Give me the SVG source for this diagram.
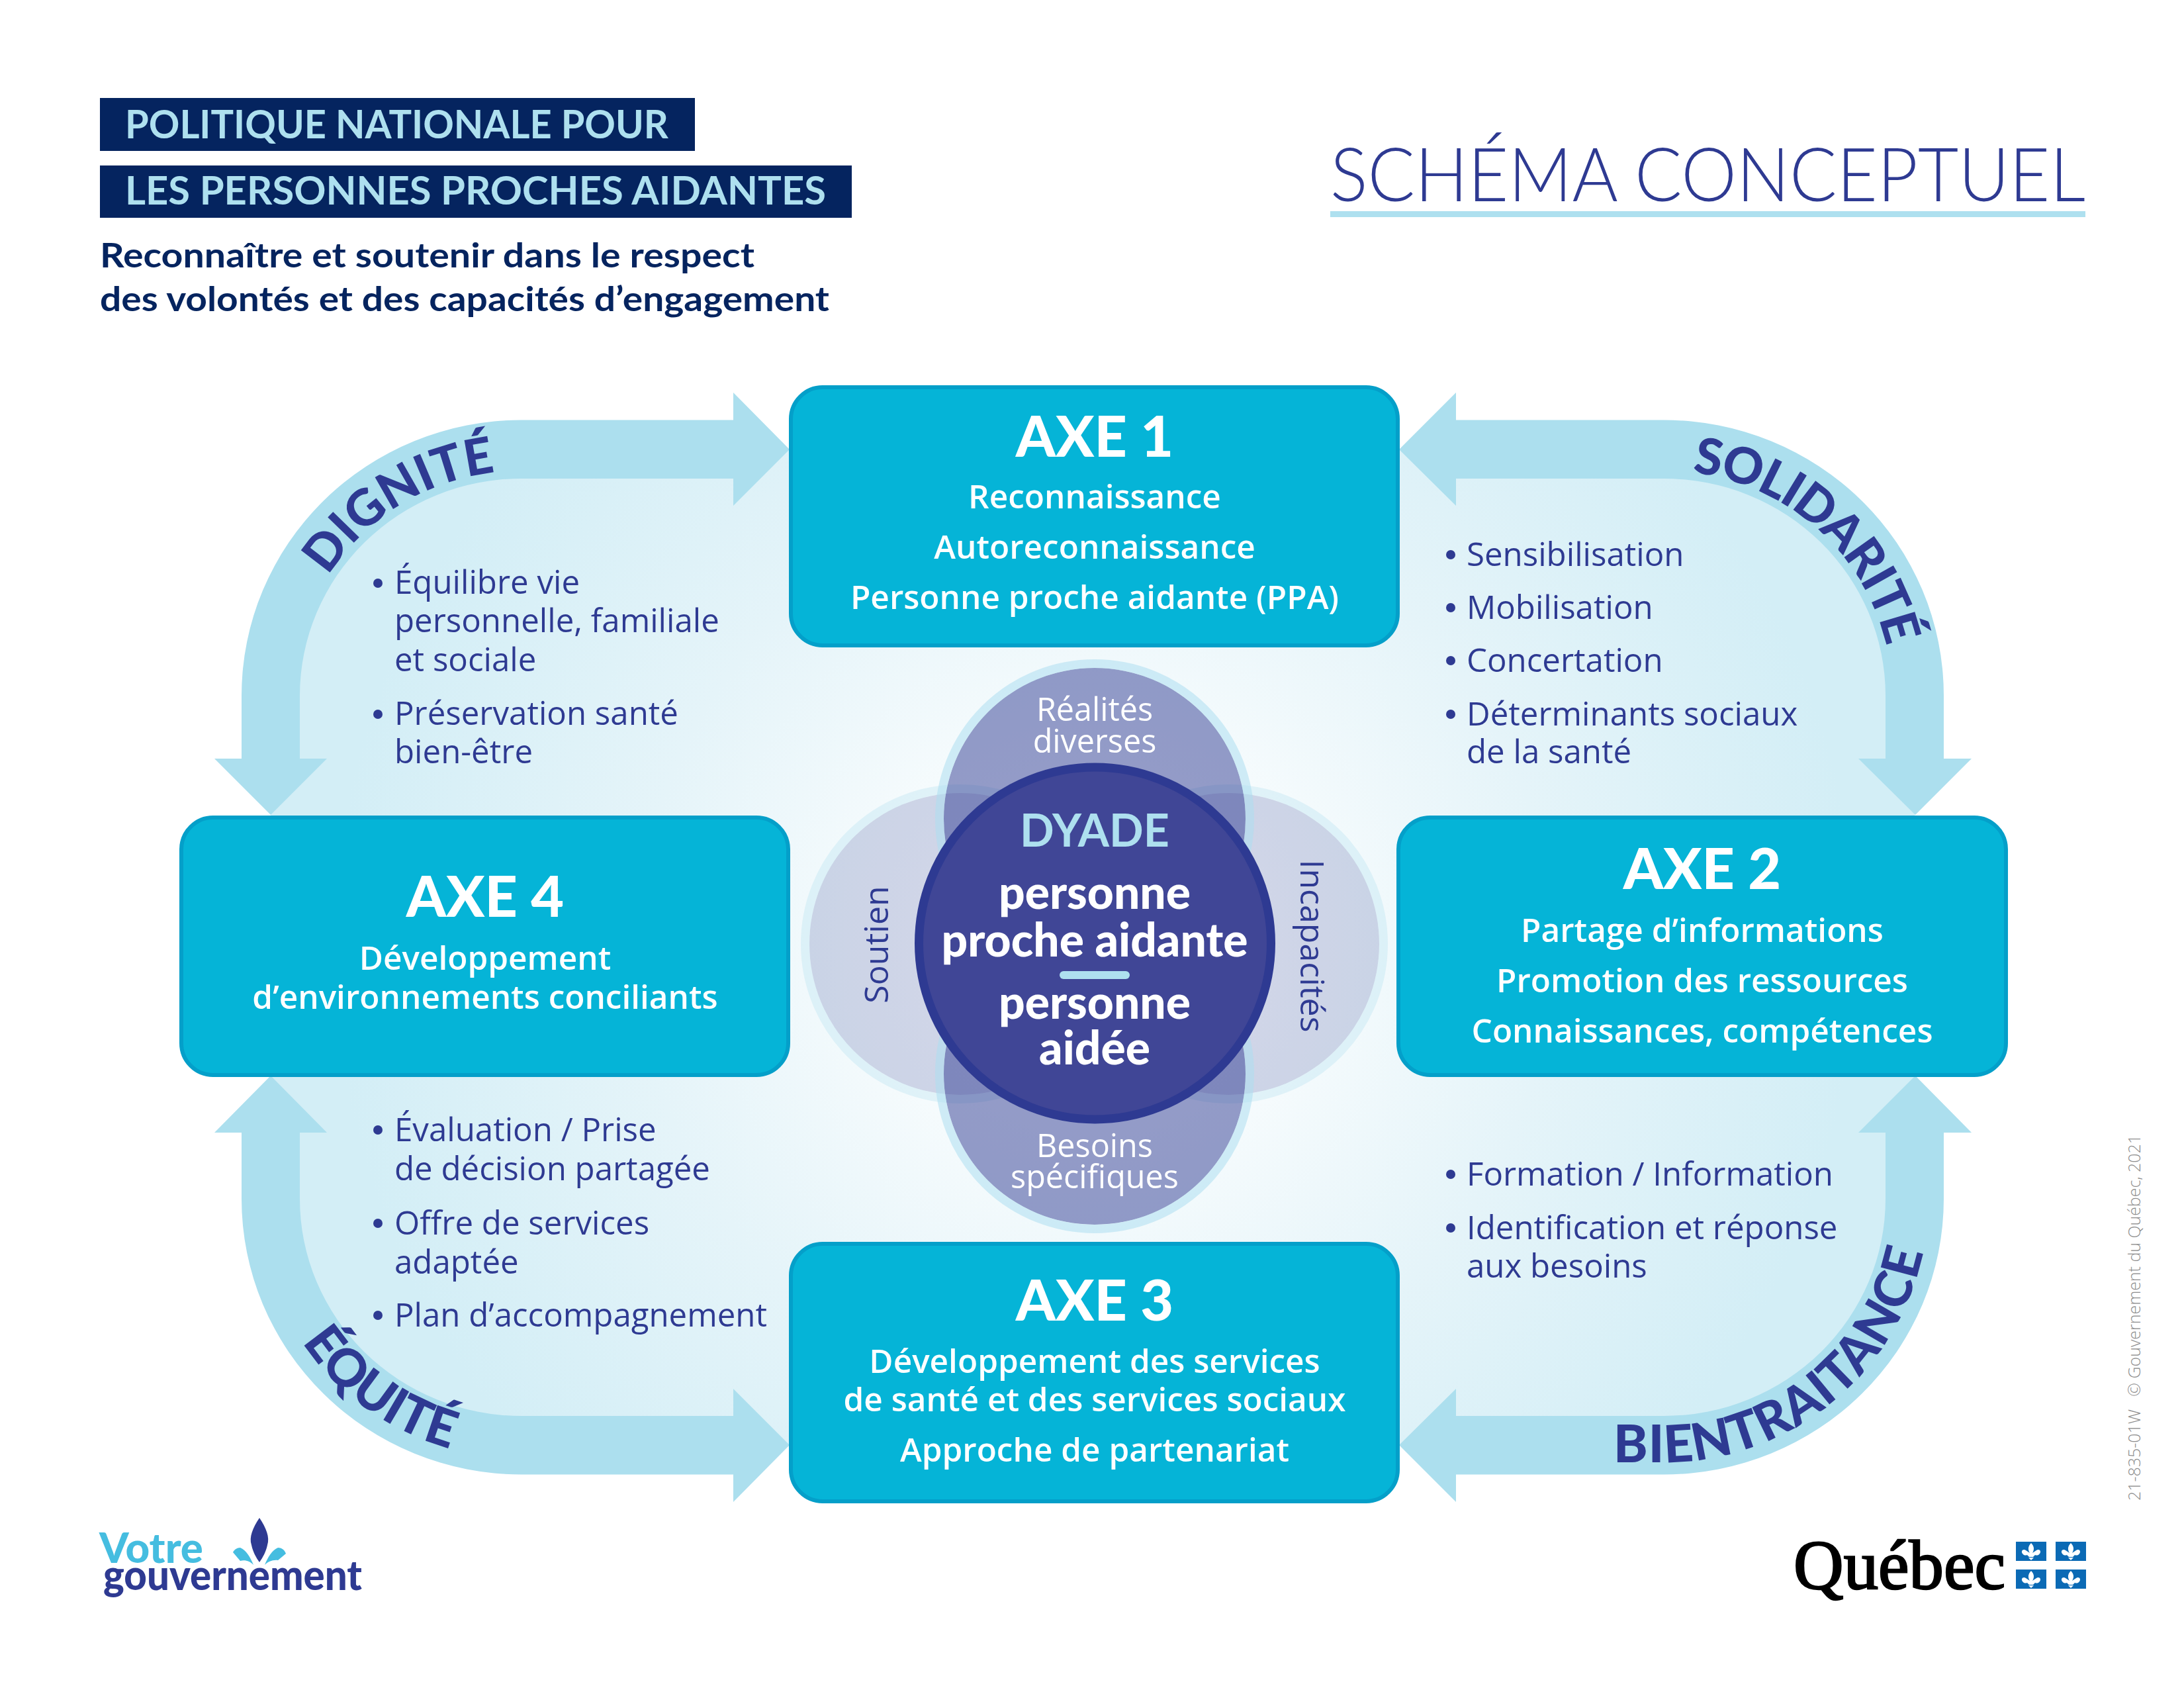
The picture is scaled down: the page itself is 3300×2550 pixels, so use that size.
<svg xmlns="http://www.w3.org/2000/svg" width="3300" height="2550" viewBox="0 0 3300 2550">
<style>
text{font-family:"Open Sans","Noto Sans","Liberation Sans",sans-serif}
.n{font-family:"Lato","Open Sans","Liberation Sans",sans-serif;font-weight:900}
.box{fill:#05b4d7;stroke:#049fc9;stroke-width:6}
.arrow{fill:#acdfee}
.axt{font-size:86px;fill:#fff;text-anchor:middle}
.axs{font-size:49.5px;fill:#fff;text-anchor:middle;font-weight:600}
.bl{font-size:49.2px;fill:#2e3a92}
.dot{fill:#2e3a92}
.arc{font-size:76px;fill:#2e3a92}
.c{fill:#fff;text-anchor:middle}
.ring{fill:none;stroke:#addff0;stroke-opacity:.55;stroke-width:13}
.ring2{fill:none;stroke:#addff0;stroke-opacity:.3;stroke-width:13}
</style>
<defs>
<radialGradient id="bg" gradientUnits="userSpaceOnUse" cx="1654" cy="1431" r="1150">
<stop offset="0.12" stop-color="#ffffff"/><stop offset="0.6" stop-color="#e5f4f9"/><stop offset="1" stop-color="#d3eef6"/>
</radialGradient>
<path id="p-dig" d="M443,1051 A345 340 0 0 1 788,711" fill="none"/>
<path id="p-sol" d="M2514,711 A345 340 0 0 1 2859,1051" fill="none"/>
<path id="p-equ" d="M390,1811 A398 392 0 0 0 788,2203" fill="none"/>
<path id="p-bie" d="M2400,2209 L2514,2209 A400 398 0 0 0 2914,1811" fill="none"/>
<g id="lis"><path d="M0,-12 C5,-7 5,-2 2,3 L8,-1 C12,-4 16,0 13,4 C11,7 8,7 6,6 L3,9 L-3,9 L-6,6 C-8,7 -11,7 -13,4 C-16,0 -12,-4 -8,-1 L-2,3 C-5,-2 -5,-7 0,-12Z M-4,10 L4,10 L0,14Z" fill="#fff"/></g>
</defs>
<rect width="3300" height="2550" fill="#fff"/>
<path id="backdrop" fill="url(#bg)" d="M788,679 L2514,679 A379 372 0 0 1 2893,1051 L2893,1811 A379 372 0 0 1 2514,2183 L788,2183 A379 372 0 0 1 409,1811 L409,1051 A379 372 0 0 1 788,679Z"/>
<g id="header">
<rect x="151" y="148" width="899" height="80" fill="#05245f"/>
<rect x="151" y="250" width="1136" height="79" fill="#05245f"/>
<text x="189" y="209" font-size="60" fill="#aee0ef" class="n" style="font-weight:700" textLength="821" lengthAdjust="spacingAndGlyphs">POLITIQUE NATIONALE POUR</text>
<text x="189" y="309" font-size="60" fill="#aee0ef" class="n" style="font-weight:700" textLength="1059" lengthAdjust="spacingAndGlyphs">LES PERSONNES PROCHES AIDANTES</text>
<text x="151" y="404" font-size="52" fill="#05245f" class="n" style="font-weight:700" textLength="989" lengthAdjust="spacingAndGlyphs">Reconnaître et soutenir dans le respect</text>
<text x="151" y="470" font-size="52" fill="#05245f" class="n" style="font-weight:700" textLength="1102" lengthAdjust="spacingAndGlyphs">des volontés et des capacités d’engagement</text>
</g>
<g id="title">
<text x="2010" y="304" font-size="112" fill="#2e3a92" class="n" style="font-weight:300" textLength="1141" lengthAdjust="spacingAndGlyphs">SCHÉMA CONCEPTUEL</text>
<rect x="2010" y="319" width="1141" height="9" fill="#aee0ef"/>
</g>
<g id="connectors">
<path class="arrow" d="M1193,679 L1108,593 L1108,634.5 L788,634.5 A423 416.5 0 0 0 365,1051 L365,1146 L324,1146 L409,1231 L494,1146 L453,1146 L453,1051 A335 328 0 0 1 788,723 L1108,723 L1108,764Z"/>
<path class="arrow" d="M2114,679 L2200,593 L2200,634.5 L2514,634.5 A423 416.5 0 0 1 2937,1051 L2937,1146 L2979,1146 L2894,1231 L2808,1146 L2849,1146 L2849,1051 A335 328 0 0 0 2514,723 L2200,723 L2200,764Z"/>
<path class="arrow" d="M1193,2183 L1108,2269 L1108,2227.5 L788,2227.5 A423 416.5 0 0 1 365,1811 L365,1711 L324,1711 L409,1625 L494,1711 L453,1711 L453,1811 A335 328 0 0 0 788,2139 L1108,2139 L1108,2098Z"/>
<path class="arrow" d="M2114,2183 L2200,2269 L2200,2227.5 L2514,2227.5 A423 416.5 0 0 0 2937,1811 L2937,1711 L2979,1711 L2894,1625 L2808,1711 L2849,1711 L2849,1811 A335 328 0 0 1 2514,2139 L2200,2139 L2200,2098Z"/>
<text class="arc n"><textPath href="#p-dig" startOffset="191">DIGNITÉ</textPath></text>
<text class="arc n" letter-spacing="-2"><textPath href="#p-sol" startOffset="43">SOLIDARITÉ</textPath></text>
<text class="arc n" style="font-size:78px"><textPath href="#p-equ" startOffset="230">ÉQUITÉ</textPath></text>
<text class="arc n" style="font-size:78px" letter-spacing="1"><textPath href="#p-bie" startOffset="38">BIENTRAITANCE</textPath></text>
</g>
<g id="axe1">
<rect class="box" x="1195" y="585" width="917" height="390" rx="48"/>
<text class="axt n" x="1654" y="690">AXE 1</text>
<text class="axs" x="1654" y="768">Reconnaissance</text>
<text class="axs" x="1654" y="844">Autoreconnaissance</text>
<text class="axs" x="1654" y="920">Personne proche aidante (PPA)</text>
</g>
<g id="axe2">
<rect class="box" x="2113" y="1235" width="918" height="389" rx="48"/>
<text class="axt n" x="2572" y="1343">AXE 2</text>
<text class="axs" x="2572" y="1423">Partage d’informations</text>
<text class="axs" x="2572" y="1499">Promotion des ressources</text>
<text class="axs" x="2572" y="1575">Connaissances, compétences</text>
</g>
<g id="axe3">
<rect class="box" x="1195" y="1879" width="917" height="389" rx="48"/>
<text class="axt n" x="1654" y="1995">AXE 3</text>
<text class="axs" x="1654" y="2074">Développement des services</text>
<text class="axs" x="1654" y="2132">de santé et des services sociaux</text>
<text class="axs" x="1654" y="2208">Approche de partenariat</text>
</g>
<g id="axe4">
<rect class="box" x="274" y="1235" width="917" height="389" rx="48"/>
<text class="axt n" x="733" y="1385">AXE 4</text>
<text class="axs" x="733" y="1465">Développement</text>
<text class="axs" x="733" y="1524">d’environnements conciliants</text>
</g>
<g id="dignite-list">
<circle class="dot" cx="571" cy="881" r="7"/><circle class="dot" cx="571" cy="1079" r="7"/>
<text class="bl" x="596" y="897">Équilibre vie</text>
<text class="bl" x="596" y="955">personnelle, familiale</text>
<text class="bl" x="596" y="1014">et sociale</text>
<text class="bl" x="596" y="1095">Préservation santé</text>
<text class="bl" x="596" y="1153">bien-être</text>
</g>
<g id="solidarite-list">
<circle class="dot" cx="2192" cy="838" r="7"/><circle class="dot" cx="2192" cy="918" r="7"/><circle class="dot" cx="2192" cy="998" r="7"/><circle class="dot" cx="2192" cy="1079" r="7"/>
<text class="bl" x="2216" y="855">Sensibilisation</text>
<text class="bl" x="2216" y="935">Mobilisation</text>
<text class="bl" x="2216" y="1015">Concertation</text>
<text class="bl" x="2216" y="1096">Déterminants sociaux</text>
<text class="bl" x="2216" y="1153">de la santé</text>
</g>
<g id="bientraitance-list">
<circle class="dot" cx="2192" cy="1774" r="7"/><circle class="dot" cx="2192" cy="1855" r="7"/>
<text class="bl" x="2216" y="1791">Formation / Information</text>
<text class="bl" x="2216" y="1872">Identification et réponse</text>
<text class="bl" x="2216" y="1930">aux besoins</text>
</g>
<g id="equite-list">
<circle class="dot" cx="571" cy="1707" r="7"/><circle class="dot" cx="571" cy="1848" r="7"/><circle class="dot" cx="571" cy="1987" r="7"/>
<text class="bl" x="596" y="1724">Évaluation / Prise</text>
<text class="bl" x="596" y="1783">de décision partagée</text>
<text class="bl" x="596" y="1865">Offre de services</text>
<text class="bl" x="596" y="1924">adaptée</text>
<text class="bl" x="596" y="2004">Plan d’accompagnement</text>
</g>
<g id="soutien">
<circle cx="1451" cy="1426" r="228" fill="#2e3a92" fill-opacity=".2"/>
<circle class="ring2" cx="1451" cy="1426" r="234.5"/>
<text transform="translate(1342,1427) rotate(-90)" text-anchor="middle" font-size="50" fill="#2e3a92">Soutien</text>
</g>
<g id="incapacites">
<circle cx="1856" cy="1426" r="228" fill="#2e3a92" fill-opacity=".2"/>
<circle class="ring2" cx="1856" cy="1426" r="234.5"/>
<text transform="translate(1965,1429) rotate(90)" text-anchor="middle" font-size="50" fill="#2e3a92">Incapacités</text>
</g>
<g id="realites">
<circle cx="1654" cy="1237" r="228" fill="#2e3a92" fill-opacity=".5"/>
<circle class="ring" cx="1654" cy="1237" r="234.5"/>
<text class="c" x="1654" y="1089" font-size="48.5">Réalités</text>
<text class="c" x="1654" y="1137" font-size="48.5">diverses</text>
</g>
<g id="besoins">
<circle cx="1654" cy="1622" r="228" fill="#2e3a92" fill-opacity=".5"/>
<circle class="ring" cx="1654" cy="1622" r="234.5"/>
<text class="c" x="1654" y="1748" font-size="48.5">Besoins</text>
<text class="c" x="1654" y="1795" font-size="48.5">spécifiques</text>
</g>
<g id="dyade">
<circle cx="1654.5" cy="1425" r="266" fill="#404696" stroke="#2e3a92" stroke-width="13"/>
<text class="n" x="1654" y="1279" font-size="68" fill="#aee0ef" text-anchor="middle" style="font-weight:700">DYADE</text>
<text class="c n" x="1654" y="1373" font-size="69.5">personne</text>
<text class="c n" x="1654" y="1445" font-size="69.5">proche aidante</text>
<rect x="1601" y="1467" width="106" height="12" rx="6" fill="#aee0ef"/>
<text class="c n" x="1654" y="1539" font-size="69.5">personne</text>
<text class="c n" x="1654" y="1608" font-size="69.5">aidée</text>
</g>
<g id="votre-gouvernement">
<text class="n" x="150" y="2361" font-size="62" fill="#45bde0" textLength="157" lengthAdjust="spacingAndGlyphs">Votre</text>
<text class="n" x="156" y="2402" font-size="62" fill="#2e3a92" textLength="391" lengthAdjust="spacingAndGlyphs">gouvernement</text>
<path d="M392,2293 C402,2308 408,2322 404,2334 C402,2344 397,2353 392,2360 C387,2353 382,2344 380,2334 C376,2322 382,2308 392,2293Z" fill="#2e3a92"/>
<path d="M383,2364 C378,2352 372,2342 363,2338 C358,2338 354,2341 352,2345 L363,2358 C371,2356 378,2359 383,2364Z" fill="#45bde0"/>
<path d="M400,2364 C405,2352 411,2342 420,2338 C425,2338 430,2341 432,2347 L420,2357 C412,2356 405,2359 400,2364Z" fill="#45bde0"/>
</g>
<g id="quebec">
<text x="2710" y="2400" font-size="106" style="font-family:'Liberation Serif',serif" fill="#000" stroke="#000" stroke-width="2.5" textLength="320" lengthAdjust="spacingAndGlyphs">Québec</text>
<rect x="3046" y="2329" width="46" height="29" fill="#0b6ab5"/><rect x="3106" y="2329" width="46" height="29" fill="#0b6ab5"/>
<rect x="3046" y="2371" width="46" height="29" fill="#0b6ab5"/><rect x="3106" y="2371" width="46" height="29" fill="#0b6ab5"/>
<use href="#lis" x="3069" y="2343"/><use href="#lis" x="3129" y="2343"/><use href="#lis" x="3069" y="2385"/><use href="#lis" x="3129" y="2385"/>
</g>
<text id="credit" transform="translate(3234,2267) rotate(-90)" font-size="26" fill="#8d8d8d" style="font-weight:300" xml:space="preserve" textLength="553" lengthAdjust="spacingAndGlyphs">21-835-01W   © Gouvernement du Québec, 2021</text>
</svg>
